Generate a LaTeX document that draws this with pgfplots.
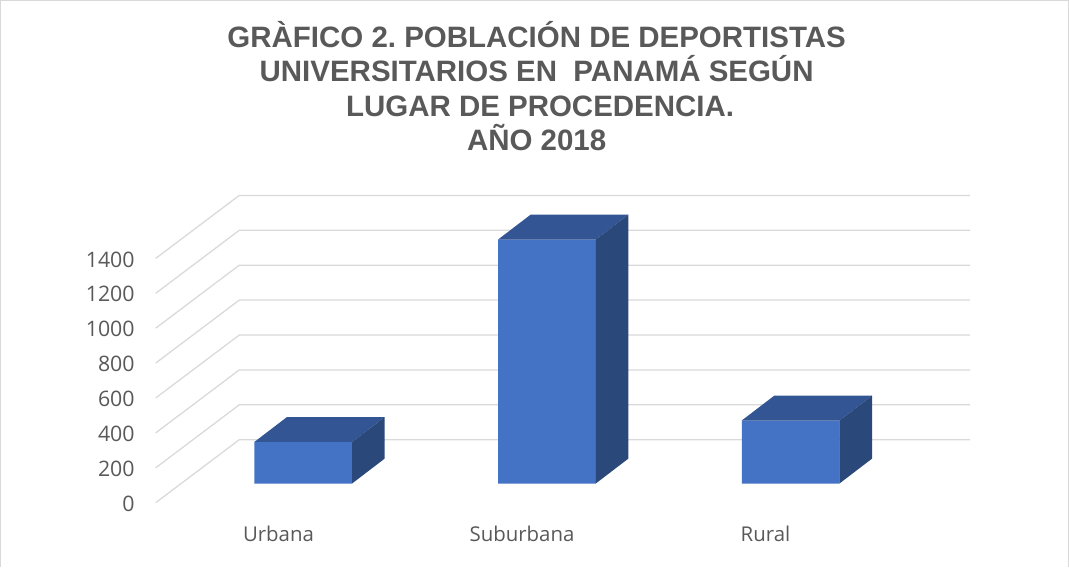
\documentclass[border=0pt]{standalone}
\usepackage{pgfplots}
\pgfplotsset{compat=1.18}
\usepackage{fontspec}
\setmainfont{Open Sans}
\newfontfamily\titlefont[Ligatures=TeX]{Liberation Sans}
\definecolor{gridc}{HTML}{D9D9D9}
\definecolor{textc}{HTML}{595959}
\definecolor{frontc}{HTML}{4472C4}
\definecolor{topc}{HTML}{335593}
\definecolor{sidec}{HTML}{2A4879}
\begin{document}
\frenchspacing
\begin{tikzpicture}
% walls, ticks, category labels, title
\begin{axis}[
  scale only axis, width=801.75pt, height=425.25pt,
  xmin=-1.1437, xmax=3.2464, ymin=-368.5, ymax=2880.8,
  axis line style={draw=none}, tick style={draw=none},
  xtick={0,1,2}, xticklabels={Urbana,Suburbana,Rural},
  ytick={0,200,400,600,800,1000,1200,1400},
  ytick pos=left, xtick pos=bottom,
  /pgf/number format/assume math mode=true,
  /pgf/number format/1000 sep={},
  tick label style={text=textc},
  yticklabel style={font=\fontsize{16pt}{18pt}\selectfont, anchor=east, xshift=104.5pt, yshift=-0.75pt},
  xticklabel style={font=\fontsize{15.3pt}{18pt}\selectfont, anchor=base, yshift=19.5pt},
  wall/.style={draw=gridc, no markers, solid, line width=0.95pt},
]
\addplot[wall] coordinates {(-0.5043,0)(-0.161,361)(2.8398,361)};
\addplot[wall] coordinates {(-0.5043,200)(-0.161,561)(2.8398,561)};
\addplot[wall] coordinates {(-0.5043,400)(-0.161,761)(2.8398,761)};
\addplot[wall] coordinates {(-0.5043,600)(-0.161,961)(2.8398,961)};
\addplot[wall] coordinates {(-0.5043,800)(-0.161,1161)(2.8398,1161)};
\addplot[wall] coordinates {(-0.5043,1000)(-0.161,1361)(2.8398,1361)};
\addplot[wall] coordinates {(-0.5043,1200)(-0.161,1561)(2.8398,1561)};
\addplot[wall] coordinates {(-0.5043,1400)(-0.161,1761)(2.8398,1761)};
\node[anchor=north, align=center, font=\titlefont\bfseries\fontsize{22.1pt}{25.9pt}\selectfont, text=textc]
  at (rel axis cs:0.502,0.971) {GRÀFICO 2. POBLACIÓN DE DEPORTISTAS\\UNIVERSITARIOS EN\ \ PANAMÁ SEGÚN\\\hspace*{5.2pt}LUGAR DE PROCEDENCIA.\\AÑO 2018};
\draw[gridc, line width=2.2pt] (rel axis cs:0,0) -- (rel axis cs:0,1) -- (rel axis cs:1,1) -- (rel axis cs:1,0);
\end{axis}
% bars
\begin{axis}[
  scale only axis, width=801.75pt, height=425.25pt,
  xmin=-1.2442, xmax=3.1424, ymin=-478.5, ymax=2770.8,
  hide axis,
]
\addplot[ybar, bar width=0.401, fill=frontc, draw=none] coordinates {(0,238)(1,1398)(2,361)};
\addplot[no markers, fill=topc, draw=none] coordinates {(-0.2005,238)(0.2005,238)(0.3345,381)(-0.0665,381)} -- cycle;
\addplot[no markers, fill=sidec, draw=none] coordinates {(0.2005,238)(0.3345,381)(0.3345,143)(0.2005,0)} -- cycle;
\addplot[no markers, fill=topc, draw=none] coordinates {(0.7995,1398)(1.2005,1398)(1.3345,1541)(0.9335,1541)} -- cycle;
\addplot[no markers, fill=sidec, draw=none] coordinates {(1.2005,1398)(1.3345,1541)(1.3345,143)(1.2005,0)} -- cycle;
\addplot[no markers, fill=topc, draw=none] coordinates {(1.7995,361)(2.2005,361)(2.3345,504)(1.9335,504)} -- cycle;
\addplot[no markers, fill=sidec, draw=none] coordinates {(2.2005,361)(2.3345,504)(2.3345,143)(2.2005,0)} -- cycle;
\end{axis}
\end{tikzpicture}
\end{document}
